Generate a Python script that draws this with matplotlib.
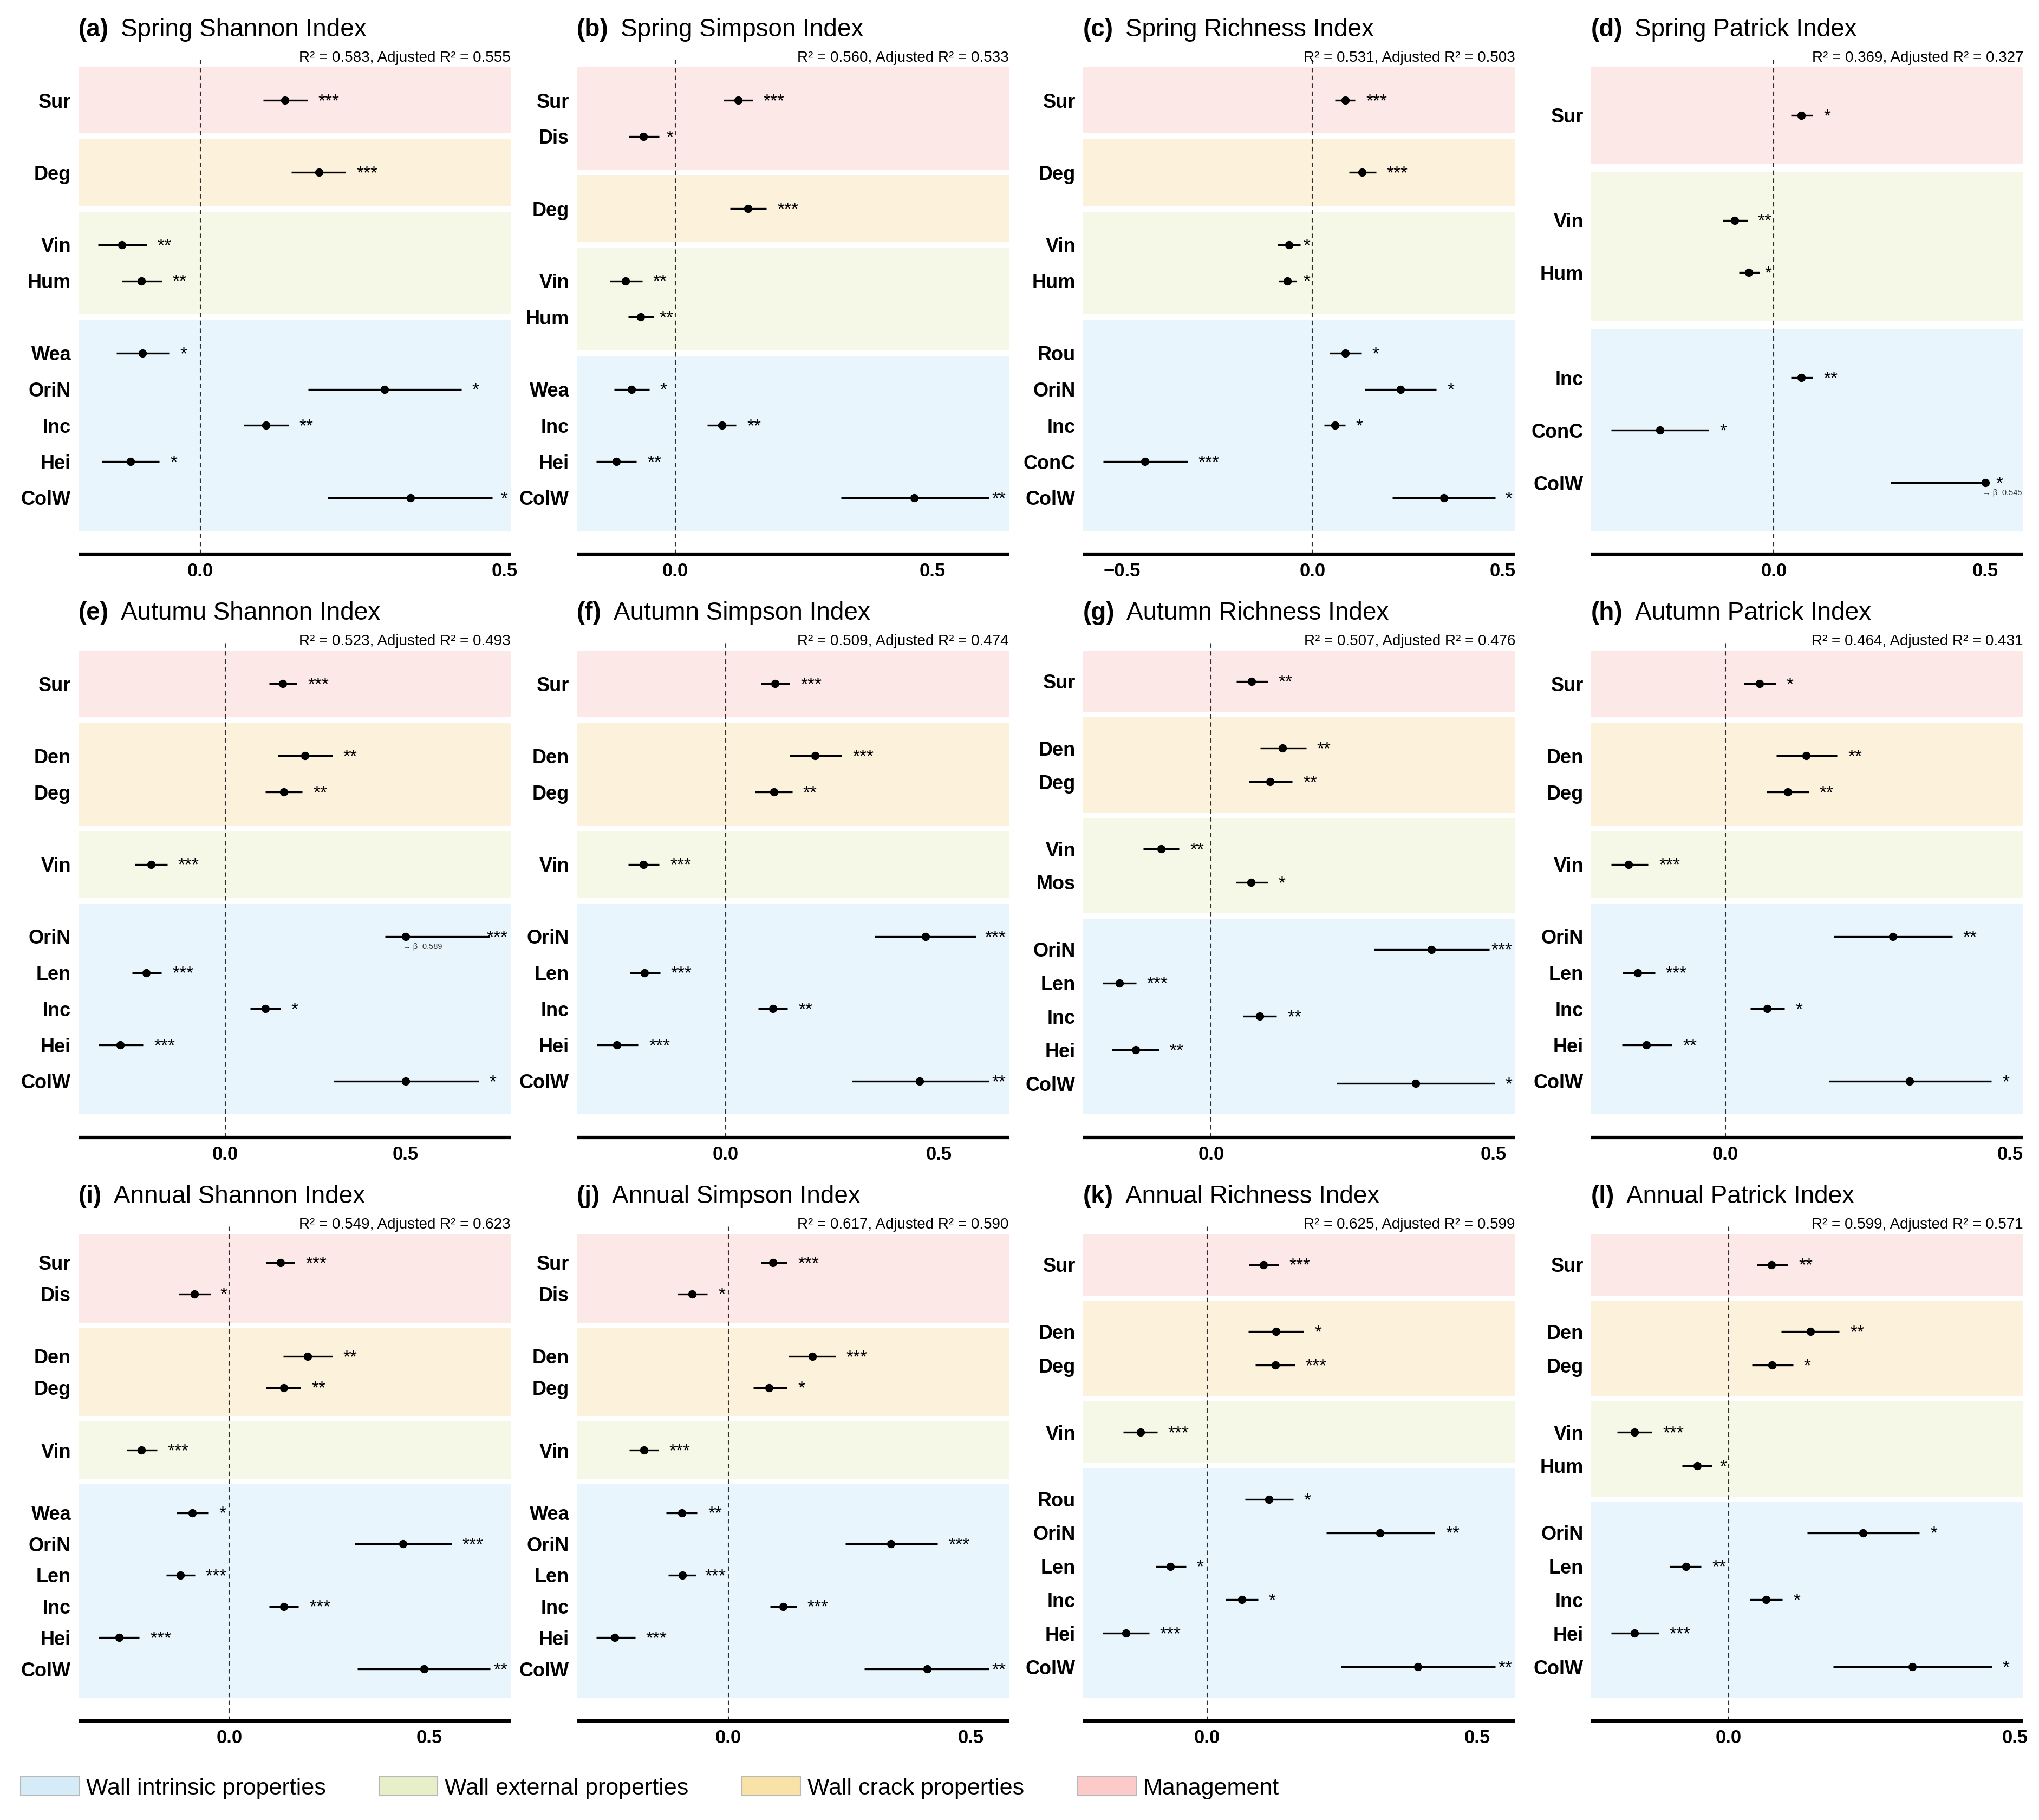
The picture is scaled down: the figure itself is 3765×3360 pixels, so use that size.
import numpy as np
import matplotlib.pyplot as plt
from matplotlib.patches import Patch
from matplotlib.ticker import MultipleLocator, FuncFormatter
from matplotlib.transforms import offset_copy

plt.rcParams['font.family'] = ['Liberation Sans', 'DejaVu Sans']

# ---- data ----
# (a) Spring Shannon
vars_a = ['Sur', 'Deg', 'Vin', 'Hum', 'Wea', 'OriN', 'Inc', 'Hei', 'ColW']
est_a = [0.139, 0.195, -0.129, -0.097, -0.095, 0.303, 0.108, -0.115, 0.345]
lo_a = [0.103, 0.150, -0.168, -0.129, -0.138, 0.177, 0.071, -0.162, 0.209]
hi_a = [0.176, 0.239, -0.088, -0.063, -0.051, 0.429, 0.145, -0.067, 0.480]
sig_a = ['***', '***', '**', '**', '*', '*', '**', '*', '*']

# (b) Spring Simpson
vars_b = ['Sur', 'Dis', 'Deg', 'Vin', 'Hum', 'Wea', 'Inc', 'Hei', 'ColW']
est_b = [0.122, -0.062, 0.141, -0.097, -0.068, -0.086, 0.090, -0.115, 0.465]
lo_b = [0.094, -0.091, 0.106, -0.128, -0.092, -0.119, 0.062, -0.154, 0.322]
hi_b = [0.150, -0.032, 0.177, -0.065, -0.042, -0.051, 0.118, -0.076, 0.610]
sig_b = ['***', '*', '***', '**', '**', '*', '**', '**', '**']

# (c) Spring Richness
vars_c = ['Sur', 'Deg', 'Vin', 'Hum', 'Rou', 'OriN', 'Inc', 'ConC', 'ColW']
est_c = [0.086, 0.131, -0.062, -0.066, 0.086, 0.231, 0.059, -0.440, 0.345]
lo_c = [0.060, 0.097, -0.091, -0.088, 0.045, 0.138, 0.031, -0.550, 0.210]
hi_c = [0.112, 0.167, -0.031, -0.041, 0.129, 0.326, 0.086, -0.328, 0.481]
sig_c = ['***', '***', '*', '*', '*', '*', '*', '***', '*']

# (d) Spring Patrick
vars_d = ['Sur', 'Vin', 'Hum', 'Inc', 'ConC', 'ColW']
est_d = [0.065, -0.092, -0.059, 0.065, -0.269, 0.545]
lo_d = [0.040, -0.121, -0.082, 0.040, -0.384, 0.276]
hi_d = [0.092, -0.062, -0.034, 0.092, -0.154, 0.500]
sig_d = ['*', '**', '*', '**', '*', '*']

# (e) Autumn Shannon
vars_e = ['Sur', 'Den', 'Deg', 'Vin', 'OriN', 'Len', 'Inc', 'Hei', 'ColW']
est_e = [0.159, 0.221, 0.162, -0.206, 0.589, -0.219, 0.111, -0.292, 0.500]
lo_e = [0.122, 0.146, 0.111, -0.250, 0.443, -0.259, 0.069, -0.352, 0.301]
hi_e = [0.199, 0.297, 0.214, -0.161, 0.734, -0.177, 0.153, -0.228, 0.703]
sig_e = ['***', '**', '**', '***', '***', '***', '*', '***', '*']

# (f) Autumn Simpson
vars_f = ['Sur', 'Den', 'Deg', 'Vin', 'OriN', 'Len', 'Inc', 'Hei', 'ColW']
est_f = [0.116, 0.210, 0.113, -0.193, 0.468, -0.190, 0.111, -0.255, 0.455]
lo_f = [0.082, 0.150, 0.069, -0.228, 0.349, -0.224, 0.076, -0.302, 0.296]
hi_f = [0.150, 0.272, 0.156, -0.156, 0.586, -0.154, 0.145, -0.205, 0.617]
sig_f = ['***', '***', '**', '***', '***', '***', '**', '***', '**']

# (g) Autumn Richness
vars_g = ['Sur', 'Den', 'Deg', 'Vin', 'Mos', 'OriN', 'Len', 'Inc', 'Hei', 'ColW']
est_g = [0.072, 0.126, 0.104, -0.089, 0.071, 0.390, -0.163, 0.086, -0.134, 0.362]
lo_g = [0.045, 0.087, 0.067, -0.120, 0.044, 0.288, -0.192, 0.056, -0.176, 0.222]
hi_g = [0.100, 0.168, 0.144, -0.057, 0.100, 0.493, -0.133, 0.116, -0.093, 0.503]
sig_g = ['**', '**', '**', '**', '*', '***', '***', '**', '**', '*']

# (h) Autumn Patrick
vars_h = ['Sur', 'Den', 'Deg', 'Vin', 'OriN', 'Len', 'Inc', 'Hei', 'ColW']
est_h = [0.060, 0.142, 0.109, -0.170, 0.294, -0.154, 0.073, -0.139, 0.323]
lo_h = [0.032, 0.089, 0.072, -0.201, 0.190, -0.181, 0.044, -0.182, 0.182]
hi_h = [0.088, 0.196, 0.146, -0.136, 0.398, -0.124, 0.104, -0.094, 0.467]
sig_h = ['*', '**', '**', '***', '**', '***', '*', '**', '*']

# (i) Annual Shannon
vars_i = ['Sur', 'Dis', 'Den', 'Deg', 'Vin', 'Wea', 'OriN', 'Len', 'Inc', 'Hei', 'ColW']
est_i = [0.128, -0.087, 0.196, 0.137, -0.220, -0.092, 0.434, -0.123, 0.137, -0.276, 0.487]
lo_i = [0.092, -0.127, 0.135, 0.092, -0.257, -0.132, 0.314, -0.158, 0.100, -0.327, 0.321]
hi_i = [0.164, -0.046, 0.258, 0.179, -0.181, -0.053, 0.556, -0.086, 0.173, -0.225, 0.653]
sig_i = ['***', '*', '**', '**', '***', '*', '***', '***', '***', '***', '**']

# (j) Annual Simpson
vars_j = ['Sur', 'Dis', 'Den', 'Deg', 'Vin', 'Wea', 'OriN', 'Len', 'Inc', 'Hei', 'ColW']
est_j = [0.092, -0.075, 0.173, 0.084, -0.174, -0.096, 0.336, -0.095, 0.113, -0.234, 0.410]
lo_j = [0.067, -0.105, 0.124, 0.052, -0.204, -0.128, 0.242, -0.124, 0.086, -0.272, 0.281]
hi_j = [0.121, -0.043, 0.221, 0.121, -0.144, -0.064, 0.432, -0.067, 0.141, -0.192, 0.538]
sig_j = ['***', '*', '***', '*', '***', '**', '***', '***', '***', '***', '**']

# (k) Annual Richness
vars_k = ['Sur', 'Den', 'Deg', 'Vin', 'Rou', 'OriN', 'Len', 'Inc', 'Hei', 'ColW']
est_k = [0.104, 0.127, 0.126, -0.123, 0.114, 0.320, -0.068, 0.064, -0.150, 0.390]
lo_k = [0.077, 0.076, 0.089, -0.155, 0.070, 0.221, -0.095, 0.034, -0.193, 0.248]
hi_k = [0.132, 0.179, 0.162, -0.092, 0.159, 0.421, -0.039, 0.094, -0.107, 0.533]
sig_k = ['***', '*', '***', '***', '*', '**', '*', '*', '***', '**']

# (l) Annual Patrick
vars_l = ['Sur', 'Den', 'Deg', 'Vin', 'Hum', 'OriN', 'Len', 'Inc', 'Hei', 'ColW']
est_l = [0.075, 0.143, 0.076, -0.164, -0.055, 0.234, -0.075, 0.065, -0.164, 0.320]
lo_l = [0.049, 0.092, 0.041, -0.195, -0.081, 0.137, -0.103, 0.037, -0.205, 0.182]
hi_l = [0.103, 0.193, 0.112, -0.134, -0.029, 0.333, -0.048, 0.094, -0.122, 0.459]
sig_l = ['**', '**', '*', '***', '*', '*', '**', '*', '***', '*']

letters = list('abcdefghijkl')
titles = ['Spring Shannon Index', 'Spring Simpson Index', 'Spring Richness Index', 'Spring Patrick Index',
          'Autumu Shannon Index', 'Autumn Simpson Index', 'Autumn Richness Index', 'Autumn Patrick Index',
          'Annual Shannon Index', 'Annual Simpson Index', 'Annual Richness Index', 'Annual Patrick Index']
r2 = ['0.583', '0.560', '0.531', '0.369', '0.523', '0.509', '0.507', '0.464', '0.549', '0.617', '0.625', '0.599']
adj_r2 = ['0.555', '0.533', '0.503', '0.327', '0.493', '0.474', '0.476', '0.431', '0.623', '0.590', '0.599', '0.571']
xlims = [(-0.200, 0.510), (-0.192, 0.649), (-0.602, 0.533), (-0.432, 0.590),
         (-0.407, 0.792), (-0.349, 0.664), (-0.227, 0.539), (-0.236, 0.523),
         (-0.377, 0.704), (-0.3125, 0.579), (-0.229, 0.570), (-0.240, 0.514)]

group_of = {'Sur': 'man', 'Dis': 'man', 'Den': 'crack', 'Deg': 'crack',
            'Vin': 'ext', 'Hum': 'ext', 'Mos': 'ext'}
band_col = {'man': '#FDE8E8', 'crack': '#FCF2DC', 'ext': '#F5F8E6', 'int': '#E8F5FC'}
leg_col = {'int': '#D5ECF8', 'ext': '#E7EFC8', 'crack': '#F8E2A6', 'man': '#FDCACA'}
leg_lab = {'int': 'Wall intrinsic properties', 'ext': 'Wall external properties',
           'crack': 'Wall crack properties', 'man': 'Management'}

panels = [
    (vars_a, est_a, lo_a, hi_a, sig_a), (vars_b, est_b, lo_b, hi_b, sig_b),
    (vars_c, est_c, lo_c, hi_c, sig_c), (vars_d, est_d, lo_d, hi_d, sig_d),
    (vars_e, est_e, lo_e, hi_e, sig_e), (vars_f, est_f, lo_f, hi_f, sig_f),
    (vars_g, est_g, lo_g, hi_g, sig_g), (vars_h, est_h, lo_h, hi_h, sig_h),
    (vars_i, est_i, lo_i, hi_i, sig_i), (vars_j, est_j, lo_j, hi_j, sig_j),
    (vars_k, est_k, lo_k, hi_k, sig_k), (vars_l, est_l, lo_l, hi_l, sig_l),
]

CAP = 0.5  # points beyond this are drawn at the cap with a note

W, H = 3766, 3360
fig = plt.figure(figsize=(W / 100, H / 100), dpi=100)

col_left = [145, 1065, 2000, 2938]
row_top = [110, 1187, 2264]
ax_w, ax_h = 798, 913
star_fs = 24

for k, (names, est, lo, hi, sig) in enumerate(panels):
    r, c = divmod(k, 4)
    ax = fig.add_axes([col_left[c] / W, 1 - (row_top[r] + ax_h) / H, ax_w / W, ax_h / H])

    # y positions, one empty slot between groups
    groups = [group_of.get(v, 'int') for v in names]
    pos = []
    p = -1
    for i, g in enumerate(groups):
        p += 2 if i > 0 and g != groups[i - 1] else 1
        pos.append(p)
    pos = np.array(pos, dtype=float)

    # background bands per group
    for g in dict.fromkeys(groups):
        gp = pos[[gi == g for gi in groups]]
        ax.axhspan(gp.min() - 0.92, gp.max() + 0.92, color=band_col[g], lw=0, zorder=0)

    ext = pos[-1] - pos[0] + 1.84
    ax.set_ylim(pos[-1] + 0.92 + 0.05 * ext, pos[0] - 0.92 - 0.016 * ext)
    ax.set_xlim(*xlims[k])

    ax.axvline(0, color='#2e2e2e', lw=1.5, ls=(0, (4, 3)), zorder=1)

    est = np.array(est)
    shown = np.minimum(est, CAP)
    ax.hlines(pos, lo, hi, color='black', lw=2.4, zorder=2)
    ax.plot(shown, pos, 'o', color='black', ms=10, zorder=3)

    # significance stars, kept left of zero line / inside the panel
    x_right = ax.transData.transform((xlims[k][1], 0))[0]
    x_zero = ax.transData.transform((0, 0))[0]
    for e, h, y, s in zip(est, hi, pos, sig):
        wpx = len(s) * 0.389 * star_fs * 100 / 72
        xs = ax.transData.transform((h, 0))[0] + 20
        limit = x_zero - 4 if e < 0 else x_right - 6
        if xs + wpx > limit:
            xs = limit - wpx
        xd = ax.transData.inverted().transform((xs, 0))[0]
        ax.text(xd, y, s, fontsize=star_fs, ha='left', va='baseline',
                transform=offset_copy(ax.transData, fig, y=-11, units='dots'), zorder=4)

    for e, y in zip(est, pos):
        if e > CAP:
            ax.annotate(f'\u2192 \u03b2={e:.3f}', xy=(CAP, y), xytext=(-5, -19),
                        textcoords='offset pixels', ha='left', va='center',
                        fontsize=10.5, color='#333333')

    ax.set_yticks(pos)
    ax.set_yticklabels(names, fontweight='bold', fontsize=26)
    ax.tick_params(axis='y', length=0, pad=10)
    ax.xaxis.set_major_locator(MultipleLocator(0.5))
    ax.xaxis.set_major_formatter(FuncFormatter(lambda v, _: f'{v:.1f}'.replace('-', '\u2212')))
    ax.tick_params(axis='x', length=0, pad=11, labelsize=25)
    for lab in ax.get_xticklabels():
        lab.set_fontweight('bold')
    for sp in ['left', 'right', 'top']:
        ax.spines[sp].set_visible(False)
    ax.spines['bottom'].set_linewidth(4.5)
    ax.spines['bottom'].set_capstyle('butt')

    # titles
    t1 = ax.text(0, 1, f'({letters[k]})', fontsize=33, fontweight='bold', ha='left', va='center',
                 transform=offset_copy(ax.transAxes, fig, y=55, units='dots'))
    ax.annotate(titles[k], xy=(1, 0.5), xycoords=t1, xytext=(22, 0), textcoords='offset pixels',
                ha='left', va='center', fontsize=33)
    ax.text(1, 1, f'R\u00b2 = {r2[k]}, Adjusted R\u00b2 = {adj_r2[k]}', fontsize=20,
            ha='right', va='center', transform=offset_copy(ax.transAxes, fig, y=3, units='dots'))

handles = [Patch(facecolor=leg_col[g], edgecolor='#b8b8b8', lw=1.5, label=leg_lab[g])
           for g in ['int', 'ext', 'crack', 'man']]
fig.legend(handles=handles, loc='center left', bbox_to_anchor=(38 / W, 1 - 3301 / H), ncol=4,
           frameon=False, fontsize=31, handlelength=2.5, handleheight=0.88, handletextpad=0.3,
           columnspacing=2.3, borderpad=0, borderaxespad=0)

fig.savefig('out.png', dpi=100)
